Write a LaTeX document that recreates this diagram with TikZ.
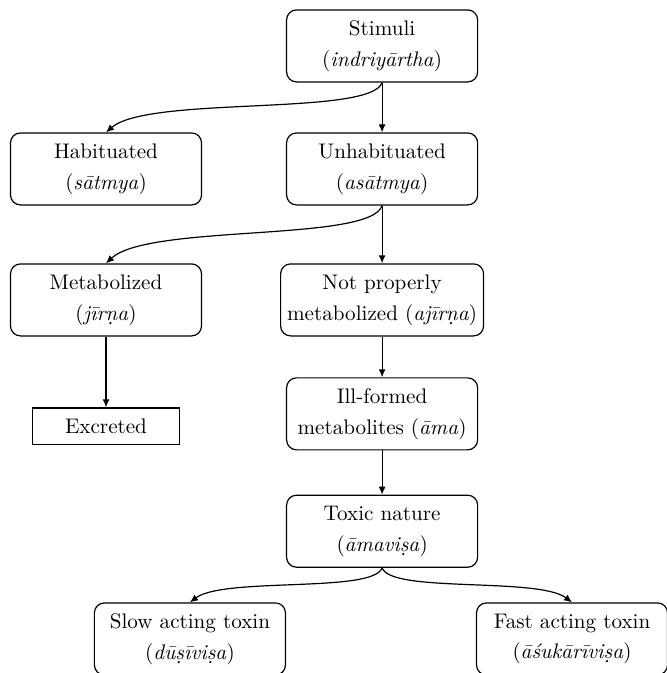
\documentclass[tikz,border=0pt]{standalone}
\usepackage{tikz}
\usetikzlibrary{arrows.meta}

\begin{document}
\begin{tikzpicture}[
      every node/.style={font=\fontsize{10.6}{15.5}\selectfont},
      box/.style={draw, line width=0.6pt, rounded corners=5pt, align=center,
                  minimum width=3.37cm, minimum height=1.27cm, inner sep=2pt},
      plainbox/.style={draw, line width=0.6pt, align=center,
                  minimum width=2.59cm, minimum height=0.65cm, inner sep=2pt},
      arrow/.style={line width=0.6pt, -{Latex[length=4pt, width=3.5pt]}},
    ]
    \useasboundingbox (0, 0) rectangle (11.765, -11.871);
    % nodes
    \node[box] (stimuli) at (6.74, -0.81)
      {Stimuli\\(\textit{indriyārtha})};
    \node[box] (habit) at (1.87, -2.98)
      {Habituated\\(\textit{sātmya})};
    \node[box] (unhabit) at (6.74, -2.98)
      {Unhabituated\\(\textit{asātmya})};
    \node[box] (metab) at (1.87, -5.29)
      {Metabolized\\(\textit{jīrṇa})};
    \node[box, minimum width=3.58cm] (notmetab) at (6.74, -5.29)
      {Not properly\\metabolized (\textit{ajīrṇa})};
    \node[plainbox] (excreted) at (1.87, -7.52) {Excreted};
    \node[box] (illformed) at (6.74, -7.30)
      {Ill-formed\\metabolites (\textit{āma})};
    \node[box] (toxic) at (6.74, -9.37)
      {Toxic nature\\(\textit{āmaviṣa})};
    \node[box] (slow) at (3.35, -11.27)
      {Slow acting toxin\\(\textit{dūṣīviṣa})};
    \node[box] (fast) at (10.09, -11.27)
      {Fast acting toxin\\(\textit{āśukārīviṣa})};
    % connectors
    \draw[arrow] (stimuli.south) -- (unhabit.north);
    \draw[arrow] (stimuli.south) .. controls +(-0.2, -0.6) and +(0.75, 0.65) .. (habit.north);
    \draw[arrow] (unhabit.south) -- (notmetab.north);
    \draw[arrow] (unhabit.south) .. controls +(-0.2, -0.65) and +(0.75, 0.7) .. (metab.north);
    \draw[arrow] (metab.south) -- (excreted.north);
    \draw[arrow] (notmetab.south) -- (illformed.north);
    \draw[arrow] (illformed.south) -- (toxic.north);
    \draw[arrow] (toxic.south) .. controls +(-0.15, -0.45) and +(0.6, 0.45) .. (slow.north);
    \draw[arrow] (toxic.south) .. controls +(0.15, -0.45) and +(-0.6, 0.45) .. (fast.north);
  \end{tikzpicture}
\end{document}
